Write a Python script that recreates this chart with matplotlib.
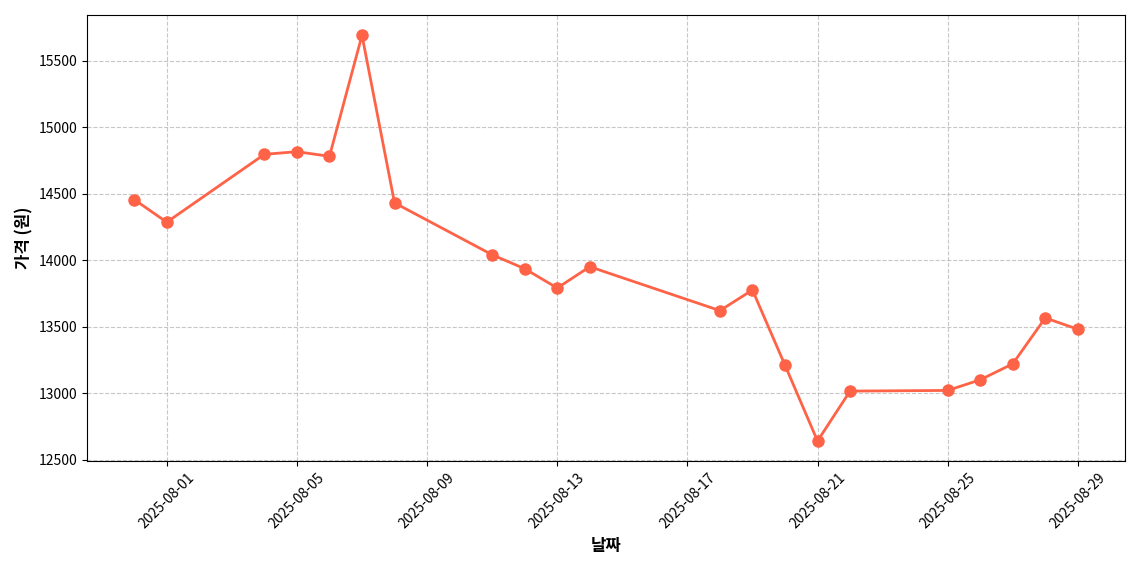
import matplotlib
matplotlib.use("Agg")
import matplotlib.pyplot as plt
import matplotlib.dates as mdates
import pandas as pd

plt.rcParams['font.family'] = ['Noto Sans CJK KR', 'DejaVu Sans']

dates = pd.to_datetime([
    "2025-07-31", "2025-08-01", "2025-08-04", "2025-08-05", "2025-08-06",
    "2025-08-07", "2025-08-08", "2025-08-11", "2025-08-12", "2025-08-13",
    "2025-08-14", "2025-08-18", "2025-08-19", "2025-08-20", "2025-08-21",
    "2025-08-22", "2025-08-25", "2025-08-26", "2025-08-27", "2025-08-28",
    "2025-08-29"])
prices = [14455, 14285, 14795, 14815, 14780, 15690, 14430, 14040, 13935, 13790,
          13950, 13620, 13775, 13210, 12640, 13015, 13020, 13100, 13220, 13565,
          13480]

fig, ax = plt.subplots(figsize=(11.4, 5.7), dpi=100)
ax.plot(dates, prices, color="#FF6347", linewidth=2, marker="o", markersize=8)
ax.set_xlabel("날짜", fontsize=12, fontweight="bold")
ax.set_ylabel("가격 (원)", fontsize=12, fontweight="bold")
ax.grid(True, linestyle="--", alpha=0.7)
ax.xaxis.set_major_locator(mdates.DayLocator(bymonthday=[1, 5, 9, 13, 17, 21, 25, 29]))
ax.xaxis.set_major_formatter(mdates.DateFormatter("%Y-%m-%d"))
plt.setp(ax.get_xticklabels(), rotation=45)
fig.tight_layout()
fig.savefig("out.png", dpi=100)
